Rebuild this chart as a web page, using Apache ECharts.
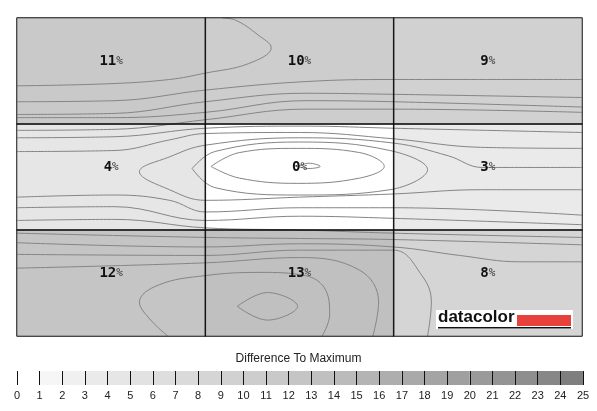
<!DOCTYPE html>
<html>
<head>
<meta charset="utf-8">
<script src="https://cdn.jsdelivr.net/npm/echarts@6/dist/echarts.min.js"></script>
<style>
  html, body { margin: 0; padding: 0; background: #fff; }
  #chart { width: 597px; height: 411px; }
</style>
</head>
<body>
<div id="chart"></div>
<script>
// 3x3 uniformity grid, rows top -> bottom, values are % difference to maximum
const colNames = ['left', 'centre', 'right']
const rowNames = ['top', 'middle', 'bottom']
const cellValues = [
  [11, 10, 9],
  [4, 0, 3],
  [12, 13, 8]
]
// legend scale 0..25
const scaleTicks = [0, 1, 2, 3, 4, 5, 6, 7, 8, 9, 10, 11, 12, 13, 14, 15, 16, 17, 18, 19, 20, 21, 22, 23, 24, 25]
const scaleBins = [0, 1, 2, 3, 4, 5, 6, 7, 8, 9, 10, 11, 12, 13, 14, 15, 16, 17, 18, 19, 20, 21, 22, 23, 24]

// iso lines, in cell units (x: 0..3 left->right, y: 0..3 top->bottom)
const isoT1 = [[0, 0.64], [0.49, 0.62], [0.81, 0.58], [1.0, 0.52], [1.23, 0.43], [1.35, 0.28], [1.28, 0.16], [1.16, 0.02], [1.09, 0]]
const isoT2 = [[0, 0.79], [0.52, 0.78], [1.0, 0.68], [1.53, 0.6], [2, 0.58], [3, 0.58]]
const isoT3 = [[0, 0.91], [0.52, 0.9], [1.0, 0.79], [1.53, 0.71], [2, 0.72], [3, 0.75]]
const isoT4 = [[0, 0.94], [0.52, 0.94], [1.0, 0.89], [1.53, 0.78], [2, 0.79], [3, 0.84]]
const isoT5 = [[0, 1.06], [0.52, 1.05], [1.0, 0.96], [1.53, 0.86], [2, 0.86], [3, 0.89]]
const isoM5 = [[0, 1.13], [0.52, 1.12], [1.0, 1.04], [1.53, 1.02], [2, 1.04], [3, 1.08]]
const isoM4 = [[0, 1.26], [0.52, 1.25], [0.81, 1.15], [1.0, 1.09], [1.5, 1.08], [2, 1.14], [2.46, 1.22], [3, 1.23]]
const isoM3 = [[3, 1.41], [2.47, 1.41], [2.29, 1.3], [2, 1.18], [1.5, 1.13], [1.0, 1.2], [0.81, 1.31], [0.65, 1.45],
  [0.81, 1.62], [1.0, 1.72], [1.5, 1.69], [2, 1.66], [2.46, 1.62], [3, 1.62]]
const isoM2 = [[0.93, 1.42], [1.05, 1.26], [1.5, 1.17], [1.98, 1.25], [2.18, 1.43], [1.98, 1.62], [1.5, 1.67], [1.05, 1.6], [0.93, 1.42]]
const isoM1 = [[1.03, 1.4], [1.18, 1.27], [1.49, 1.23], [1.82, 1.27], [1.95, 1.4], [1.82, 1.51], [1.49, 1.56], [1.18, 1.51], [1.03, 1.4]]
const isoM0 = [[1.49, 1.4], [1.55, 1.37], [1.61, 1.4], [1.55, 1.42], [1.49, 1.4]]
const isoM6 = [[0, 1.69], [0.52, 1.67], [0.81, 1.72], [1.0, 1.83], [1.5, 1.79], [2, 1.79], [3, 1.86]]
const isoM7 = [[0, 1.79], [0.52, 1.78], [1.0, 1.91], [1.5, 1.87], [2, 1.89], [3, 1.95]]
const isoB1 = [[0, 1.91], [0.52, 1.9], [1.0, 1.98], [1.5, 2.0], [2, 2.03], [3, 2.07]]
const isoB2 = [[0, 2.03], [1.0, 2.07], [1.5, 2.08], [2, 2.09], [3, 2.14]]
const isoB3 = [[0, 2.12], [1.0, 2.16], [1.5, 2.13], [2, 2.16], [2.35, 2.24], [2.67, 2.3], [3, 2.3]]
const isoB4 = [[0, 2.23], [1.0, 2.24], [1.5, 2.19], [2, 2.19], [2.15, 2.43], [2.2, 2.68], [2.18, 3]]
const isoB5 = [[0, 2.36], [1.0, 2.31], [1.5, 2.26], [1.82, 2.38], [1.92, 2.68], [1.89, 3]]
const isoB6 = [[0.8, 3], [0.7, 2.83], [0.65, 2.68], [0.75, 2.52], [1.0, 2.43], [1.29, 2.4], [1.53, 2.43], [1.64, 2.57], [1.66, 2.8], [1.62, 3]]
const isoB7 = [[1.17, 2.72], [1.33, 2.59], [1.49, 2.72], [1.33, 2.85], [1.17, 2.72]]
const isoLines = [isoT1, isoT2, isoT3, isoT4, isoT5, isoM5, isoM4, isoM3, isoM2, isoM1, isoM0,
  isoM6, isoM7, isoB1, isoB2, isoB3, isoB4, isoB5, isoB6, isoB7]

// grey palette, one shade per % step
const greys = ['#ffffff', '#f6f6f6', '#f0f0f0', '#eaeaea', '#e6e6e6', '#e2e2e2', '#dedede', '#dadada',
  '#d5d5d5', '#d1d1d1', '#cdcdcd', '#c9c9c9', '#c5c5c5', '#c0c0c0', '#bbbbbb', '#b4b4b4',
  '#aeaeae', '#a9a9a9', '#a4a4a4', '#a0a0a0', '#9a9a9a', '#949494', '#8e8e8e', '#878787', '#7f7f7f']

let heatData = []
cellValues.forEach((row, r) => {
  row.forEach((v, c) => {
    heatData.push([c, r, v])
  })
})

let isoSeries = isoLines.map((pts, i) => ({
  name: 'iso' + i,
  type: 'line',
  xAxisIndex: 2,
  yAxisIndex: 2,
  data: pts,
  smooth: 0.4,
  symbol: 'none',
  silent: true,
  z: 3,
  lineStyle: { color: '#858585', width: 1 }
}))

let myChart = echarts.init(document.getElementById('chart'))
let option = {
  animation: false,
  backgroundColor: '#fff',
  title: {
    text: 'Difference To Maximum',
    left: 'center',
    top: 348,
    textStyle: {
      fontFamily: 'Liberation Sans',
      fontWeight: 'normal',
      fontSize: 12,
      color: '#222'
    }
  },
  grid: [
    { left: 17, right: 15, top: 18, bottom: 75 },
    { left: 17, right: 14, top: 371, height: 14 },
    { left: 17, right: 15, top: 18, bottom: 75 }
  ],
  xAxis: [
    {
      gridIndex: 0,
      type: 'category',
      data: colNames,
      show: false
    },
    {
      gridIndex: 1,
      type: 'value',
      min: 0,
      max: 25,
      interval: 1,
      z: 5,
      axisLine: { show: false },
      axisTick: {
        show: true,
        inside: true,
        length: 14,
        lineStyle: { color: '#111', width: 1 }
      },
      splitLine: { show: false },
      axisLabel: {
        margin: 5,
        fontFamily: 'Liberation Sans',
        fontSize: 11,
        color: '#222',
        formatter: v => scaleTicks.includes(v) ? String(v) : ''
      }
    },
    {
      gridIndex: 2,
      type: 'value',
      min: 0,
      max: 3,
      show: false
    }
  ],
  yAxis: [
    {
      gridIndex: 0,
      type: 'category',
      data: rowNames,
      inverse: true,
      show: false
    },
    {
      gridIndex: 1,
      type: 'value',
      min: 0,
      max: 1,
      show: false
    },
    {
      gridIndex: 2,
      type: 'value',
      min: 0,
      max: 3,
      inverse: true,
      show: false
    }
  ],
  series: [
    {
      name: 'uniformity',
      type: 'heatmap',
      xAxisIndex: 0,
      yAxisIndex: 0,
      data: heatData,
      z: 2,
      itemStyle: {
        color: p => greys[Math.min(p.data[2], 24)],
        borderWidth: 0
      },
      label: { show: false }
    },
    ...isoSeries,
    {
      // cell borders and labels on top of the iso lines
      name: 'labels',
      type: 'heatmap',
      xAxisIndex: 0,
      yAxisIndex: 0,
      data: heatData,
      z: 4,
      itemStyle: { color: 'rgba(0,0,0,0)', borderColor: '#111', borderWidth: 1 },
      label: {
        show: true,
        offset: [0, -10],
        formatter: p => '{n|' + p.data[2] + '}{p|%}',
        rich: {
          n: {
            fontFamily: 'DejaVu Sans Mono',
            fontWeight: 'bold',
            fontSize: 14,
            color: '#111'
          },
          p: {
            fontFamily: 'DejaVu Sans Mono',
            fontSize: 11,
            color: '#333'
          }
        }
      }
    },
    {
      name: 'scale',
      type: 'custom',
      xAxisIndex: 1,
      yAxisIndex: 1,
      data: scaleBins,
      renderItem: (params, api) => {
        let v = api.value(0)
        let p0 = api.coord([v, 1])
        let p1 = api.coord([v + 1, 0])
        return {
          type: 'rect',
          shape: { x: p0[0], y: p0[1], width: p1[0] - p0[0], height: p1[1] - p0[1] },
          style: { fill: greys[v] }
        }
      }
    }
  ],
  graphic: {
    elements: [
      {
        type: 'rect',
        x: 436,
        y: 310,
        z: 100,
        shape: { width: 137, height: 19 },
        style: { fill: '#fff' }
      },
      {
        type: 'text',
        x: 438,
        y: 309,
        z: 101,
        style: {
          text: 'datacolor',
          fontFamily: 'Liberation Sans',
          fontWeight: 'bold',
          fontSize: 17,
          fill: '#111'
        }
      },
      {
        type: 'rect',
        x: 517,
        y: 315,
        z: 101,
        shape: { width: 54, height: 11 },
        style: { fill: '#e8403a' }
      },
      {
        type: 'rect',
        x: 438,
        y: 327,
        z: 101,
        shape: { width: 133, height: 1.5 },
        style: { fill: '#111' }
      }
    ]
  }
}
myChart.setOption(option, true)
window.addEventListener('resize', () => {
  myChart.resize()
})
</script>
</body>
</html>
